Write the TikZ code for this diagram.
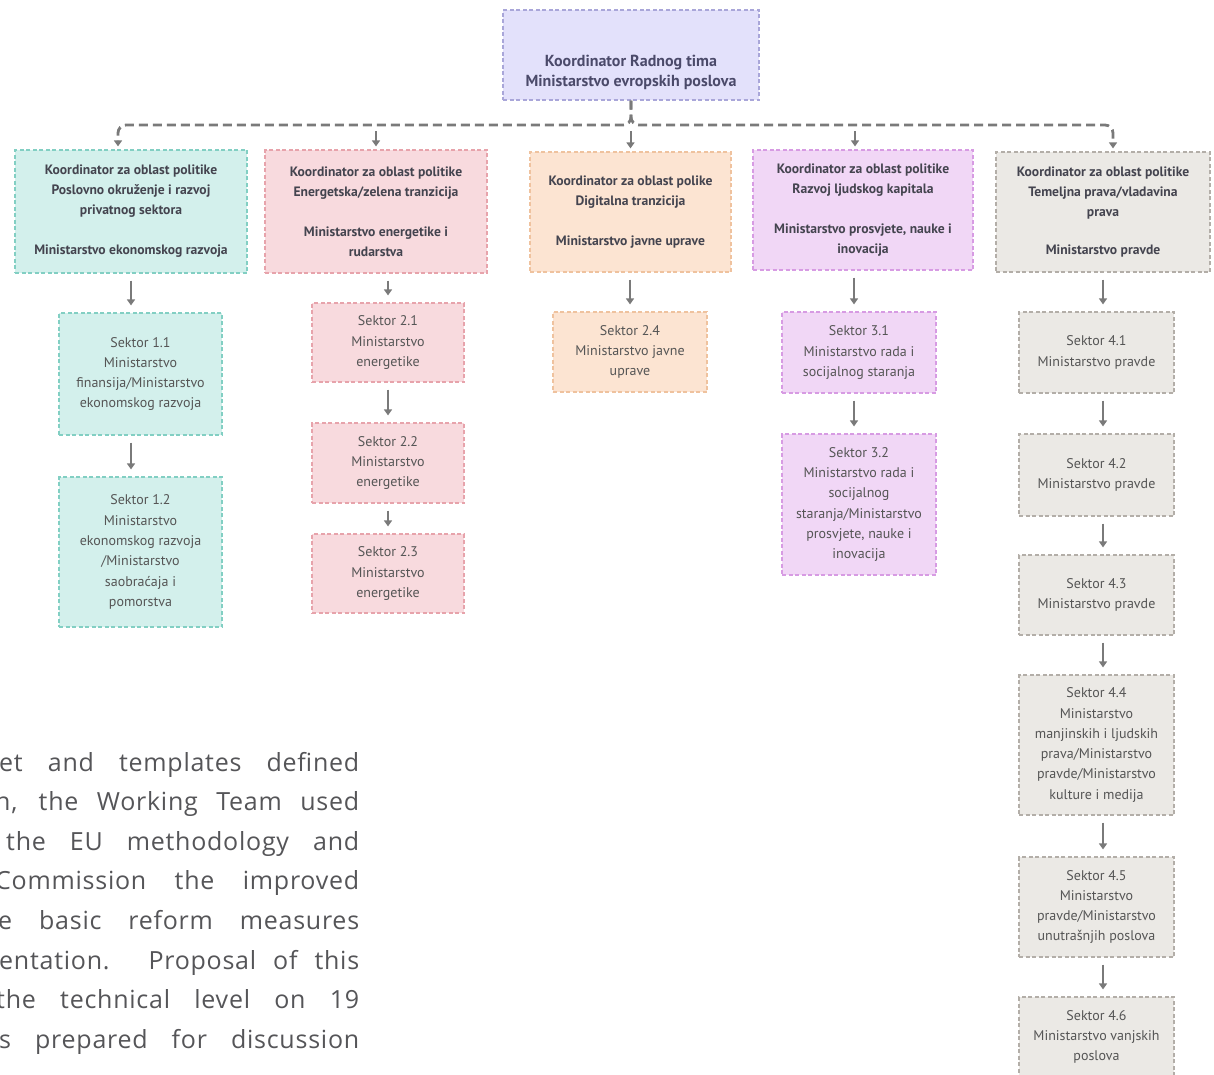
\documentclass[tikz,border=0pt]{standalone}
\usepackage{fontspec}
\setmainfont{PT Sans}
\newfontfamily\parafont[LetterSpace=3]{Open Sans}
\usetikzlibrary{arrows.meta}
\definecolor{topF}{HTML}{E3E1FB}
\definecolor{topL}{HTML}{A9A6D9}
\definecolor{tealF}{HTML}{D3F0EC}
\definecolor{tealL}{HTML}{82CFC3}
\definecolor{pinkF}{HTML}{F8DADE}
\definecolor{pinkL}{HTML}{E7A3AB}
\definecolor{peachF}{HTML}{FCE4D2}
\definecolor{peachL}{HTML}{EFC29E}
\definecolor{lilacF}{HTML}{F1D7F6}
\definecolor{lilacL}{HTML}{D79BE3}
\definecolor{greyF}{HTML}{EBE9E5}
\definecolor{greyL}{HTML}{B3AEA8}
\definecolor{ktext}{HTML}{44444F}
\definecolor{toptext}{HTML}{4B4A6A}
\definecolor{stext}{HTML}{555555}
\definecolor{arrgray}{HTML}{7A7A7A}
\definecolor{paragray}{HTML}{555558}

\begin{document}
\begin{tikzpicture}[x=1pt, y=-1pt,
  box/.style={draw=#1L, fill=#1F, dash pattern=on 4pt off 2.5pt, line width=1.2pt, inner sep=0pt, align=center},
  kbox/.style={box=#1, text=ktext, font=\bfseries\fontsize{13.6}{20}\selectfont},
  sbox/.style={box=#1, text=stext, font=\fontsize{14}{20.3}\selectfont},
  bus/.style={draw=arrgray, line width=2.8pt, dash pattern=on 9pt off 5pt, rounded corners=8pt, -{Triangle[width=8pt,length=6pt]}, shorten >=3pt},
  arr/.style={draw=arrgray, line width=2pt, -{Triangle[width=8pt,length=6pt]}, shorten <=7pt, shorten >=7pt},
  para/.style={anchor=base west, inner sep=0pt, text=paragray, font=\parafont\fontsize{25}{25}\selectfont}]
\path[use as bounding box] (0,0) rectangle (1214,1074);
\clip (0,0) rectangle (1214,1074);

\node[box=top, minimum width=256pt, minimum height=90pt] (k) at (631,55) {};
\node[text=toptext, align=center, font=\bfseries\fontsize{16}{20}\selectfont] (kt) at (631,72) {Koordinator Radnog tima\\Ministarstvo evropskih poslova};
\coordinate (b) at (630,125);

\node[kbox=teal, minimum width=232pt, minimum height=123pt] (c1) at (131,211.5) {Koordinator za oblast politike\\Poslovno okruženje i razvoj\\privatnog sektora\\[20pt]Ministarstvo ekonomskog razvoja};
\node[kbox=pink, minimum width=222pt, minimum height=123pt] (c2) at (376,211.5) {Koordinator za oblast politike\\Energetska/zelena tranzicija\\[20pt]Ministarstvo energetike i\\rudarstva};
\node[kbox=peach, minimum width=201pt, minimum height=120pt] (c3) at (630.5,212) {Koordinator za oblast polike\\Digitalna tranzicija\\[20pt]Ministarstvo javne uprave};
\node[kbox=lilac, minimum width=220pt, minimum height=120pt] (c4) at (863,210) {Koordinator za oblast politike\\Razvoj ljudskog kapitala\\[20pt]Ministarstvo prosvjete, nauke i\\inovacija};
\node[kbox=grey, minimum width=214pt, minimum height=120pt] (c5) at (1103,212) {Koordinator za oblast politike\\Temeljna prava/vladavina\\prava\\[18pt]Ministarstvo pravde};

\node[sbox=teal, minimum width=163pt, minimum height=122pt] (s11) at (140.5,374) {Sektor 1.1\\Ministarstvo\\finansija/Ministarstvo\\ekonomskog razvoja};
\node[sbox=teal, minimum width=163pt, minimum height=150pt] (s12) at (140.5,552) {Sektor 1.2\\Ministarstvo\\ekonomskog razvoja\\/Ministarstvo\\saobraćaja i\\pomorstva};
\node[sbox=pink, minimum width=152pt, minimum height=79pt] (s21) at (388,342.5) {Sektor 2.1\\Ministarstvo\\energetike};
\node[sbox=pink, minimum width=152pt, minimum height=80pt] (s22) at (388,463) {Sektor 2.2\\Ministarstvo\\energetike};
\node[sbox=pink, minimum width=152pt, minimum height=79pt] (s23) at (388,573.5) {Sektor 2.3\\Ministarstvo\\energetike};
\node[sbox=peach, minimum width=154pt, minimum height=80pt] (s24) at (630,352) {Sektor 2.4\\Ministarstvo javne\\uprave};
\node[sbox=lilac, minimum width=154pt, minimum height=81pt] (s31) at (859,352.5) {Sektor 3.1\\Ministarstvo rada i\\socijalnog staranja};
\node[sbox=lilac, minimum width=154pt, minimum height=141pt] (s32) at (859,504.5) {Sektor 3.2\\Ministarstvo rada i\\socijalnog\\staranja/Ministarstvo\\prosvjete, nauke i\\inovacija};
\node[sbox=grey, minimum width=155pt, minimum height=81pt] (s41) at (1096.5,352.5) {Sektor 4.1\\Ministarstvo pravde};
\node[sbox=grey, minimum width=155pt, minimum height=82pt] (s42) at (1096.5,475) {Sektor 4.2\\Ministarstvo pravde};
\node[sbox=grey, minimum width=155pt, minimum height=80pt] (s43) at (1096.5,595) {Sektor 4.3\\Ministarstvo pravde};
\node[sbox=grey, minimum width=155pt, minimum height=140pt] (s44) at (1096.5,745) {Sektor 4.4\\Ministarstvo\\manjinskih i ljudskih\\prava/Ministarstvo\\pravde/Ministarstvo\\kulture i medija};
\node[sbox=grey, minimum width=155pt, minimum height=100pt] (s45) at (1096.5,907) {Sektor 4.5\\Ministarstvo\\pravde/Ministarstvo\\unutrašnjih poslova};
\node[sbox=grey, minimum width=155pt, minimum height=80pt] (s46) at (1096.5,1037) {Sektor 4.6\\Ministarstvo vanjskih\\poslova};

\draw[bus] (k.south) |- ([xshift=-13pt]c1.north |- b) -- ([xshift=-13pt]c1.north);
\draw[bus] (k.south) |- ([xshift=10pt]c5.north |- b) -- ([xshift=10pt]c5.north);
\draw[arr, shorten <=6pt, shorten >=3pt] (c2.north |- b) -- (c2.north);
\draw[arr, shorten <=6pt, shorten >=3pt] (c3.north |- b) -- (c3.north);
\draw[arr, shorten <=6pt, shorten >=3pt] ([xshift=-8pt]c4.north |- b) -- ([xshift=-8pt]c4.north);

\draw[arr] (c1.south) -- (c1.south |- s11.north);
\draw[arr, line width=2.6pt] (c1.south |- s11.south) -- (c1.south |- s12.north);
\draw[arr] (s21.north |- c2.south) -- (s21.north);
\draw[arr] (s21.south) -- (s22.north);
\draw[arr] (s22.south) -- (s23.north);
\draw[arr] (s24.north |- c3.south) -- (s24.north);
\draw[arr] ([xshift=-5pt]s31.north |- c4.south) -- ([xshift=-5pt]s31.north);
\draw[arr] ([xshift=-5pt]s31.south) -- ([xshift=-5pt]s32.north);
\draw[arr] (c5.south) -- (c5.south |- s41.north);
\draw[arr] (c5.south |- s41.south) -- (c5.south |- s42.north);
\draw[arr] (c5.south |- s42.south) -- (c5.south |- s43.north);
\draw[arr] (c5.south |- s43.south) -- (c5.south |- s44.north);
\draw[arr] (c5.south |- s44.south) -- (c5.south |- s45.north);
\draw[arr] (c5.south |- s45.south) -- (c5.south |- s46.north);

\node[para] (p1) at (-1,771) {\makebox[360pt][s]{et and templates defined}};
\node[para] (p2) at (-5,810.6) {\makebox[364pt][s]{n, the Working Team used}};
\node[para] (p3) at (6,850.2) {\makebox[353pt][s]{the EU methodology and}};
\node[para] (p4) at (-5,889.8) {\makebox[364pt][s]{Commission the improved}};
\node[para] (p5) at (-2,929.4) {\makebox[361pt][s]{e basic reform measures}};
\node[para] (p6) at (-1,969) {\makebox[360pt][s]{entation. Proposal of this}};
\node[para] (p7) at (-4,1008.6) {\makebox[363pt][s]{the technical level on 19}};
\node[para] (p8) at (-1,1048.2) {\makebox[360pt][s]{s prepared for discussion}};
\end{tikzpicture}
\end{document}
